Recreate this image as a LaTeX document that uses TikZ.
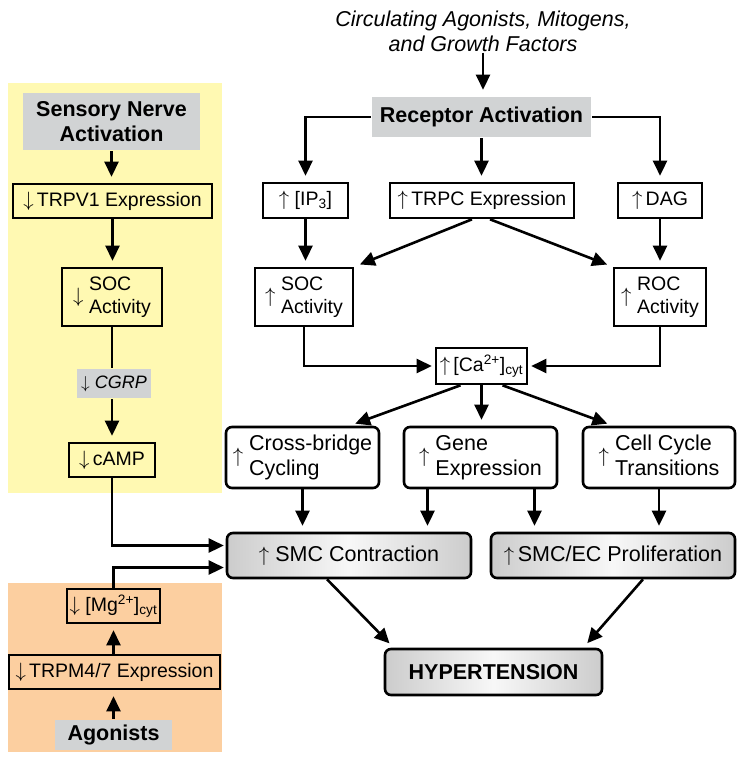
\documentclass[tikz,border=0pt]{standalone}
\usepackage{fontspec}
\setmainfont{Liberation Sans}
\usetikzlibrary{arrows.meta}

\definecolor{panelyellow}{RGB}{255,249,178}
\definecolor{panelorange}{RGB}{252,207,160}
\definecolor{labelgray}{RGB}{209,211,212}

\newcommand{\fsA}{\fontsize{19.5}{23}\selectfont}
\newcommand{\fsB}{\fontsize{21.5}{25}\selectfont}
\newcommand{\fsC}{\fontsize{18}{21}\selectfont}
\newcommand{\up}{$\uparrow$}
\newcommand{\dn}{$\downarrow$}
\newcommand{\twol}[2]{#1\;\begin{tabular}{@{}l@{}}#2\end{tabular}}

\begin{document}
\begin{tikzpicture}[x=1pt, y=-1pt, >={Triangle[length=15pt,width=14pt]}, line width=2.6pt,
    every node/.style={inner sep=0pt, line width=2.6pt},
    sqbox/.style={draw, font=\fsA, minimum height=34pt},
    graylbl/.style={fill=labelgray, font=\fsB\bfseries, align=center},
    rndbox/.style={draw, rounded corners=6pt, font=\fsB, minimum width=153pt, minimum height=61pt},
    shdbox/.style={draw, rounded corners=6pt, left color=black!20, right color=black!20,
      middle color=black!3, font=\fsB, minimum height=45pt},
    link/.style={->, shorten >=6pt}]
      \useasboundingbox (0, 0) rectangle (752, 760);
      \fill[panelyellow] (8, 83) rectangle (222, 493);
      \fill[panelorange] (8, 583) rectangle (222, 752);

      \node[graylbl, minimum width=177pt, minimum height=57pt] (sensory) at (111.5, 121.5) {Sensory Nerve\\Activation};
      \node[sqbox, minimum width=199pt] (trpv) at (112.5, 201) {\dn\,TRPV1 Expression};
      \node[sqbox, minimum width=100pt, minimum height=58pt] (socL) at (112, 297) {\twol{\dn}{SOC\\Activity}};
      \node[fill=labelgray, font=\fsC, minimum width=74pt, minimum height=29pt] (cgrp) at (114, 383.5) {\dn\ \textit{CGRP}};
      \node[sqbox, minimum width=86pt] (camp) at (112, 460) {\dn\,cAMP};
      \node[sqbox, minimum width=93pt] (mg) at (113.5, 606) {\dn\ [Mg\textsuperscript{2+}]\textsubscript{cyt}};
      \node[sqbox, minimum width=211pt] (trpm) at (114.5, 672) {\dn\,TRPM4/7 Expression};
      \node[graylbl, minimum width=117pt, minimum height=30pt] (agon) at (113.5, 735) {Agonists};

      \node[font=\fsB\itshape, align=center] (circ) at (483, 31) {Circulating Agonists, Mitogens,\\and Growth Factors};
      \node[graylbl, minimum width=219pt, minimum height=40pt] (recep) at (481.5, 117) {Receptor Activation};
      \node[sqbox, minimum width=85pt, minimum height=35pt] (ip3) at (305.5, 200.5) {\up\ [IP\textsubscript{3}]};
      \node[sqbox, minimum width=184pt, minimum height=35pt] (trpc) at (482, 200.5) {\up\,TRPC Expression};
      \node[sqbox, minimum width=84pt, minimum height=35pt] (dag) at (660, 200.5) {\up\,DAG};
      \node[sqbox, minimum width=98pt, minimum height=58pt] (socR) at (304, 297) {\twol{\up}{SOC\\Activity}};
      \node[sqbox, minimum width=92pt, minimum height=58pt] (roc) at (660, 297) {\twol{\up}{ROC\\Activity}};
      \node[sqbox, minimum width=91pt, minimum height=36pt] (ca) at (481.5, 366) {\up\,[Ca\textsuperscript{2+}]\textsubscript{cyt}};
      \node[rndbox] (xbridge) at (302.5, 457.5) {\twol{\up}{Cross-bridge\\Cycling}};
      \node[rndbox] (gene) at (480.5, 457.5) {\twol{\up}{Gene\\Expression}};
      \node[rndbox, minimum width=152pt] (cycle) at (659, 457.5) {\twol{\up}{Cell Cycle\\Transitions}};
      \node[shdbox, minimum width=244pt] (contr) at (349, 555.5) {\up\ SMC Contraction};
      \node[shdbox, minimum width=244pt] (prolif) at (613, 555.5) {\up\,SMC/EC Proliferation};
      \node[shdbox, minimum width=217pt, minimum height=46pt, font=\fsB\bfseries] (hyper) at (493.5, 672) {HYPERTENSION};

      \draw[link] (sensory.south) -- (sensory.south |- trpv.north);
      \draw[link] (trpv.south) -- (trpv.south |- socL.north);
      \draw (socL.south) -- (socL.south |- cgrp.north);
      \draw[link] (socL.south |- cgrp.south) -- (socL.south |- camp.north);
      \draw[link, shorten >=2pt] (camp.south) |- ([yshift=10pt]contr.west);
      \draw[link, shorten >=2pt] (mg.north) |- ([yshift=-12pt]contr.west);
      \draw[link] (mg.south |- trpm.north) -- (mg.south);
      \draw[link] (agon.north) -- (agon.north |- trpm.south);

      \draw[link] (circ.south) -- (circ.south |- recep.north);
      \draw[link] (recep.west) -| (ip3.north);
      \draw[link] (recep.east) -| (dag.north);
      \draw[link] (recep.south) -- (recep.south |- trpc.north);
      \draw[link] (ip3.south) -- (ip3.south |- socR.north);
      \draw[link] (dag.south) -- (dag.south |- roc.north);
      \draw[link] ([xshift=-10pt]trpc.south) -- (socR.north east);
      \draw[link] ([xshift=8pt]trpc.south) -- (roc.north west);
      \draw[link, shorten >=3pt] (socR.south) |- (ca.west);
      \draw[link, shorten >=3pt] (roc.south) |- (ca.east);
      \draw[link] ([xshift=-21pt]ca.south) -- ([xshift=47pt]xbridge.north);
      \draw[link] (ca.south) -- (ca.south |- gene.north);
      \draw[link] ([xshift=21pt]ca.south) -- ([xshift=-46pt]cycle.north);
      \draw[link] (xbridge.south) -- (xbridge.south |- contr.north);
      \draw[link] ([xshift=-53pt]gene.south) -- ([xshift=-53pt]gene.south |- contr.north);
      \draw[link] ([xshift=54pt]gene.south) -- ([xshift=54pt]gene.south |- prolif.north);
      \draw[link] (cycle.south) -- (cycle.south |- prolif.north);
      \draw[link] ([xshift=-22pt]contr.south) -- ([xshift=10pt]hyper.north west);
      \draw[link] ([xshift=30pt]prolif.south) -- ([xshift=-20pt]hyper.north east);
    \end{tikzpicture}
\end{document}
